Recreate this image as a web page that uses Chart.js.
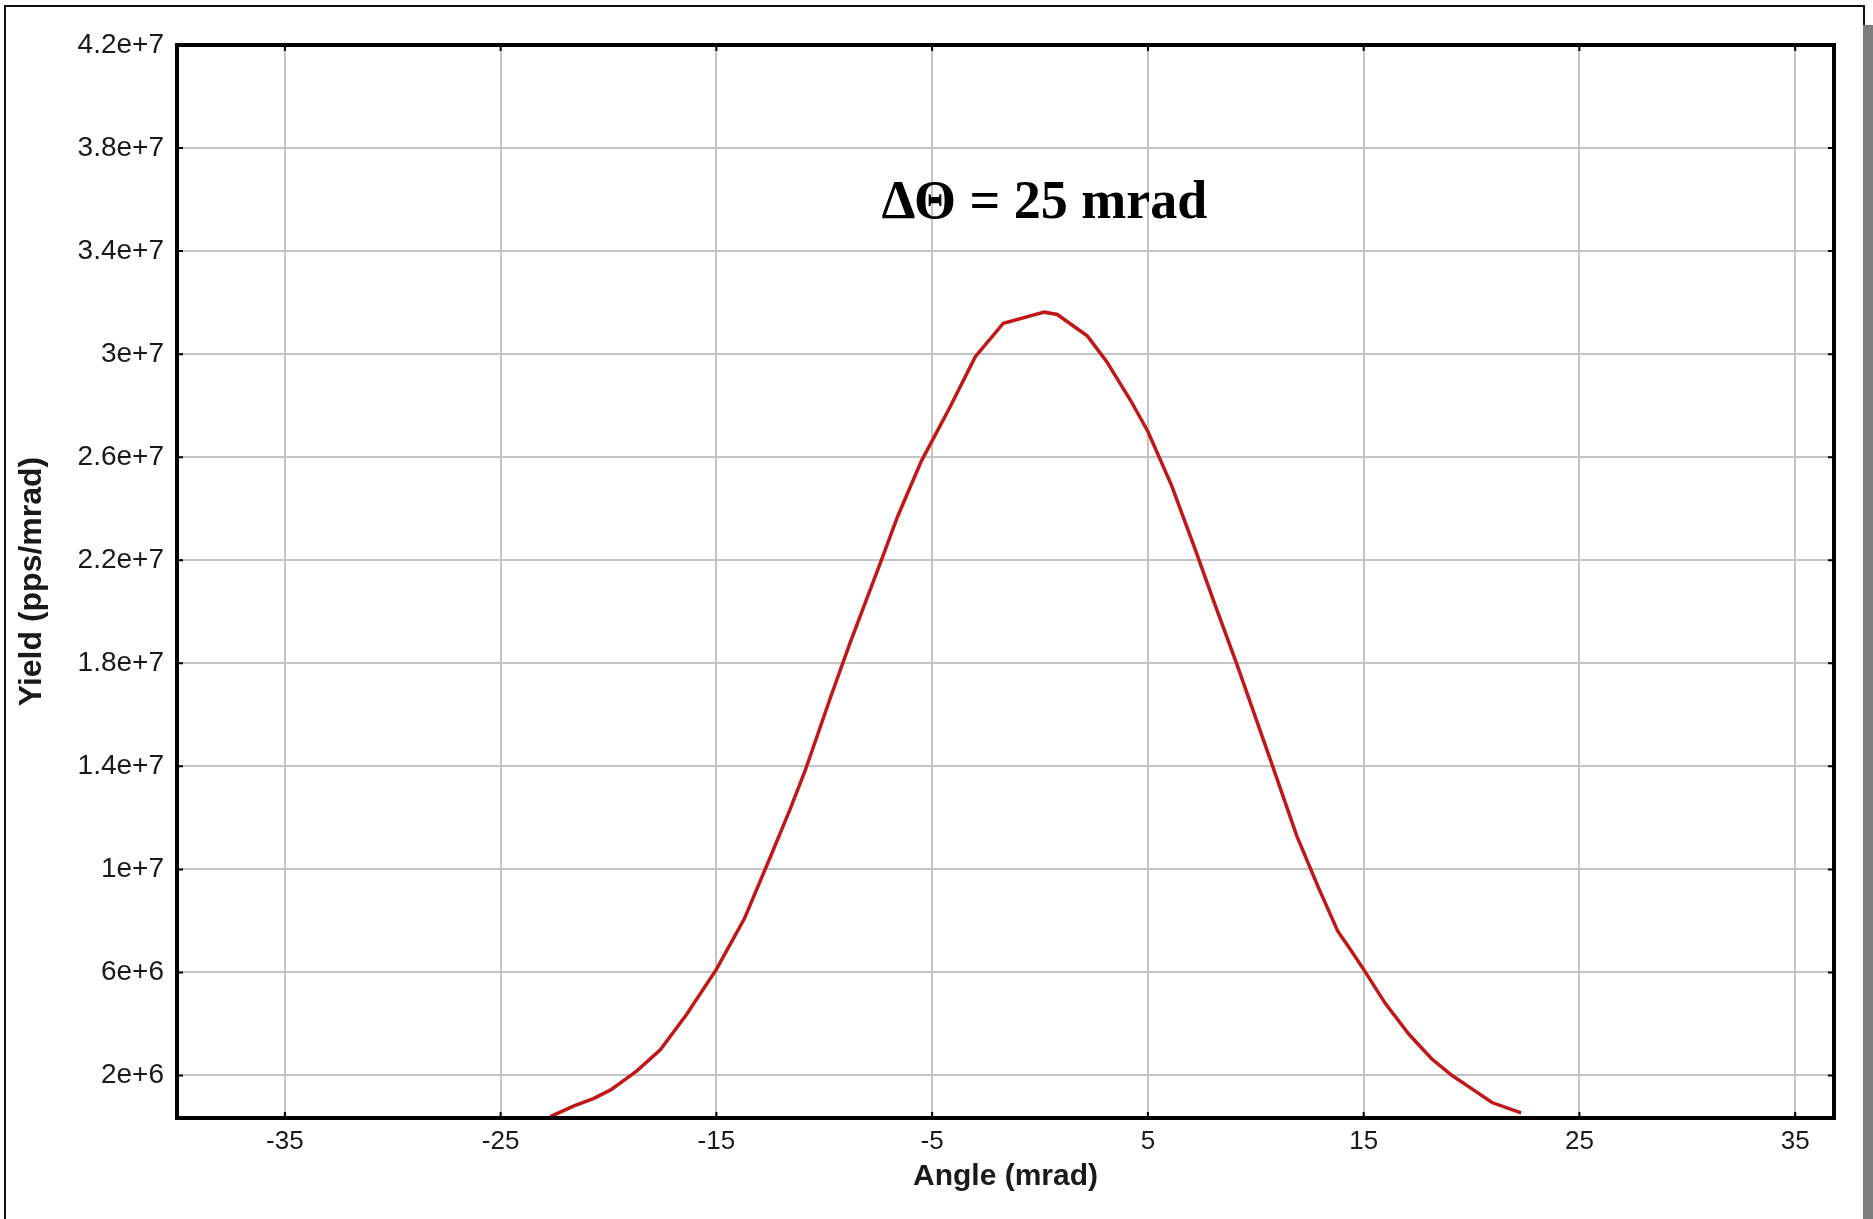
<!DOCTYPE html>
<html>
<head>
<meta charset="utf-8">
<script src="https://cdn.jsdelivr.net/npm/chart.js@4.4.1/dist/chart.umd.min.js"></script>
<style>
  html, body { margin: 0; padding: 0; background: #fff; overflow: hidden; }
  #wrap { position: relative; width: 1873px; height: 1219px; }
  .frame { position: absolute; left: 4px; top: 5px; width: 1857px; height: 1300px;
           border: 2px solid #111; border-bottom: none; pointer-events: none; }
  .shadow { position: absolute; left: 1863px; top: 25px; width: 10px; height: 1200px;
            background: #7d7d7d; pointer-events: none; }
</style>
</head>
<body>
<div id="wrap">
  <canvas id="yield-chart" width="1873" height="1219"></canvas>
  <div class="frame"></div>
  <div class="shadow"></div>
</div>
<script>
// Angle (mrad) and yield (pps/mrad)
const angles = [-22.7, -21.6, -20.7, -19.9, -18.7, -17.6, -16.4, -15.0, -13.7, -12.5,
                -11.6, -10.9, -9.7, -8.8, -7.4, -6.6, -5.5, -4.2, -3.0, -1.7,
                0.2, 0.8, 2.2, 3.1, 4.2, 5.0, 6.1, 7.2, 8.1,
                9.15, 10.7, 11.9, 12.9, 13.8, 14.3, 15.0, 16.0, 17.1, 18.15, 19.1, 19.9, 20.95, 22.3]
const yields = [0.40e6, 0.82e6, 1.10e6, 1.44e6, 2.17e6, 3.00e6, 4.35e6, 6.12e6, 8.09e6, 10.48e6,
                12.3e6, 13.8e6, 16.7e6, 18.8e6, 21.9e6, 23.7e6, 25.85e6, 27.9e6, 29.9e6, 31.2e6,
                31.63e6, 31.54e6, 30.7e6, 29.7e6, 28.2e6, 27.0e6, 24.9e6, 22.4e6, 20.3e6,
                17.9e6, 14.2e6, 11.3e6, 9.3e6, 7.6e6, 7.0e6, 6.12e6, 4.8e6, 3.6e6, 2.65e6, 2.0e6, 1.55e6, 0.95e6, 0.55e6]

// Tick labels
const xTicks = [-35, -25, -15, -5, 5, 15, 25, 35]
const yTicks = [2e6, 6e6, 1e7, 1.4e7, 1.8e7, 2.2e7, 2.6e7, 3e7, 3.4e7, 3.8e7, 4.2e7]
const yTickLabels = ["2e+6", "6e+6", "1e+7", "1.4e+7", "1.8e+7", "2.2e+7", "2.6e+7", "3e+7", "3.4e+7", "3.8e+7", "4.2e+7"]

const annotationText = "\u0394\u0398 = 25 mrad"
const annotationAt = { x: 0.2, y: 3.53e7 }

// Frame, inner tick marks and the annotation
const framePlugin = {
    id: 'frame',
    afterDatasetsDraw(chart) {
        const { ctx, chartArea: a, scales } = chart
        ctx.save()
        ctx.strokeStyle = '#000'
        ctx.lineWidth = 2
        xTicks.forEach(v => {
            const px = scales.x.getPixelForValue(v)
            ctx.beginPath()
            ctx.moveTo(px, a.bottom); ctx.lineTo(px, a.bottom - 6)
            ctx.moveTo(px, a.top); ctx.lineTo(px, a.top + 6)
            ctx.stroke()
        })
        yTicks.forEach(v => {
            const py = scales.y.getPixelForValue(v)
            ctx.beginPath()
            ctx.moveTo(a.left, py); ctx.lineTo(a.left + 6, py)
            ctx.moveTo(a.right, py); ctx.lineTo(a.right - 6, py)
            ctx.stroke()
        })
        ctx.lineWidth = 4
        ctx.strokeRect(a.left, a.top, a.right - a.left, a.bottom - a.top)

        ctx.fillStyle = '#000'
        ctx.font = 'bold 54px "Liberation Serif", "Times New Roman", serif'
        ctx.textAlign = 'center'
        ctx.textBaseline = 'alphabetic'
        ctx.fillText(annotationText, scales.x.getPixelForValue(annotationAt.x), scales.y.getPixelForValue(annotationAt.y))
        ctx.restore()
    }
}

const ctx = document.getElementById("yield-chart")
const yieldChart = new Chart(ctx, {
    type: "line",
    data: {
        datasets: [{
            data: angles.map((a, i) => ({ x: a, y: yields[i] })),
            borderColor: '#c01818',
            borderWidth: 3.5,
            tension: 0,
            pointRadius: 0,
            fill: false
        }]
    },
    options: {
        responsive: false,
        animation: false,
        layout: { padding: { left: 0, top: 45, right: 39, bottom: 0 } },
        scales: {
            x: {
                type: 'linear',
                min: -40,
                max: 36.8,
                afterBuildTicks: scale => { scale.ticks = xTicks.map(v => ({ value: v })) },
                afterFit: scale => { scale.height = 101 },
                grid: { color: '#c4c4c4', lineWidth: 2, drawTicks: false },
                border: { display: false },
                ticks: {
                    padding: 8,
                    color: '#1a1a1a',
                    font: { family: '"Liberation Sans", Arial, sans-serif', size: 26 },
                    maxRotation: 0,
                    callback: v => String(v)
                },
                title: {
                    display: true,
                    text: 'Angle (mrad)',
                    color: '#1a1a1a',
                    padding: { top: 0, bottom: 24 },
                    font: { family: '"Liberation Sans", Arial, sans-serif', size: 30, weight: 'bold' }
                }
            },
            y: {
                type: 'linear',
                min: 0.35e6,
                max: 4.2e7,
                afterBuildTicks: scale => { scale.ticks = yTicks.map(v => ({ value: v })) },
                afterFit: scale => { scale.width = 177 },
                grid: { color: '#c4c4c4', lineWidth: 2, drawTicks: false },
                border: { display: false },
                ticks: {
                    padding: 13,
                    color: '#1a1a1a',
                    font: { family: '"Liberation Sans", Arial, sans-serif', size: 28 },
                    callback: v => yTickLabels[yTicks.indexOf(v)]
                },
                title: {
                    display: true,
                    text: 'Yield (pps/mrad)',
                    color: '#1a1a1a',
                    padding: { top: 13, bottom: 0 },
                    font: { family: '"Liberation Sans", Arial, sans-serif', size: 32, weight: 'bold' }
                }
            }
        },
        plugins: {
            legend: { display: false },
            tooltip: { enabled: false }
        }
    },
    plugins: [framePlugin]
})
</script>
</body>
</html>
